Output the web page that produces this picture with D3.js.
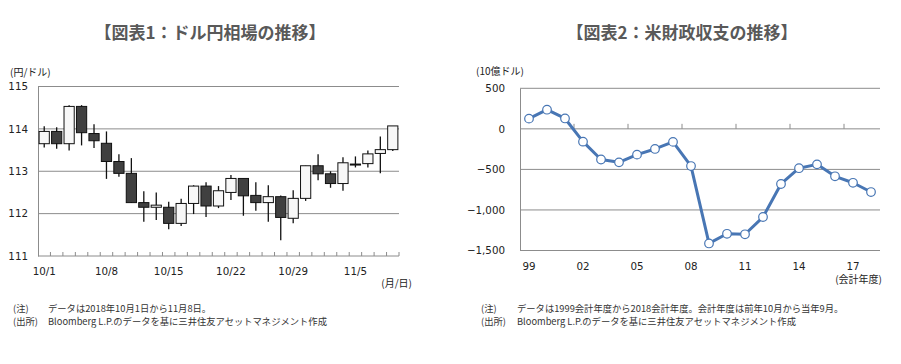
<!DOCTYPE html>
<html>
<head>
<meta charset="utf-8">
<script src="https://cdn.jsdelivr.net/npm/d3@7"></script>
<style>
  body { margin: 0; background: #fff; }
  svg { display: block; }
  .title { font-family: "Noto Sans CJK JP", sans-serif; font-weight: bold; font-size: 17px; fill: #595959; }
  .tick-label { font-family: "DejaVu Sans", "Noto Sans CJK JP", sans-serif; font-size: 10.3px; fill: #222; }
  .unit { font-family: "Noto Sans CJK JP", sans-serif; font-size: 10px; fill: #222; }
  .note { font-family: "Noto Sans CJK JP", sans-serif; font-size: 9.3px; fill: #333; }
</style>
</head>
<body>
<svg id="chart" width="901" height="364"></svg>
<script>
'use strict';

// chart 1: USD/JPY daily candles, 2018/10/1 - 11/8
var dates = ['10/1', '10/2', '10/3', '10/4', '10/5',
  '10/8', '10/9', '10/10', '10/11', '10/12',
  '10/15', '10/16', '10/17', '10/18', '10/19',
  '10/22', '10/23', '10/24', '10/25', '10/26',
  '10/29', '10/30', '10/31', '11/1', '11/2',
  '11/5', '11/6', '11/7', '11/8'];
var opens = [113.65, 113.94, 113.65, 114.53, 113.89, 113.66, 113.23, 112.95, 112.26, 112.15,
  112.15, 111.77, 112.24, 112.65, 112.18, 112.50, 112.83, 112.43, 112.26, 112.40,
  111.89, 112.36, 113.13, 112.94, 112.71, 113.17, 113.18, 113.42, 113.51];
var highs = [114.06, 114.04, 114.56, 114.56, 114.11, 113.94, 113.40, 113.31, 112.53, 112.50,
  112.28, 112.35, 112.67, 112.74, 112.65, 112.91, 112.83, 112.74, 112.67, 112.43,
  112.55, 113.13, 113.40, 113.00, 113.33, 113.35, 113.49, 113.82, 114.07];
var lows = [113.56, 113.53, 113.49, 113.61, 113.55, 112.82, 112.87, 112.25, 111.81, 111.85,
  111.63, 111.71, 111.99, 111.92, 112.13, 112.32, 111.95, 112.07, 111.81, 111.37,
  111.77, 112.30, 112.79, 112.61, 112.54, 113.09, 113.09, 112.95, 113.48];
var closes = [113.94, 113.65, 114.53, 113.91, 113.72, 113.23, 112.95, 112.26, 112.15, 112.20,
  111.77, 112.24, 112.65, 112.18, 112.54, 112.83, 112.42, 112.26, 112.40, 111.91,
  112.36, 113.13, 112.94, 112.71, 113.20, 113.15, 113.41, 113.51, 114.07];
var dateLabels = ['10/1', '10/8', '10/15', '10/22', '10/29', '11/5'];
var yenTicks = [111, 112, 113, 114, 115];

// chart 2: US federal budget balance, fiscal years 1999 - 2018 (USD bn)
var fiscalYears = [1999, 2000, 2001, 2002, 2003, 2004, 2005, 2006, 2007, 2008,
  2009, 2010, 2011, 2012, 2013, 2014, 2015, 2016, 2017, 2018];
var balances = [126, 236, 128, -158, -378, -413, -318, -248, -161, -459,
  -1413, -1294, -1300, -1087, -680, -485, -438, -585, -665, -779];
var yearLabels = [1999, 2002, 2005, 2008, 2011, 2014, 2017];
var balanceTicks = [500, 0, -500, -1000, -1500];

var GRID = '#8c8c8c',
  LINE_BLUE = '#4876b4';

var svg = d3.select('#chart');
svg.append('rect').attr('width', 901).attr('height', 364).attr('fill', '#fff');

drawCandles();
drawBalance();

function drawCandles() {
  var LEFT = 38, RIGHT = 399, TOP = 86.5, BOTTOM = 256;

  var data = dates.map(function(d, i) {
    return { date: d, open: opens[i], high: highs[i], low: lows[i], close: closes[i] };
  });

  var xScale = d3.scaleBand()
    .domain(dates)
    .range([LEFT, RIGHT]);

  var yScale = d3.scaleLinear()
    .domain([111, 115])
    .range([BOTTOM, TOP]);

  var g = svg.append('g');

  svg.append('text')
    .attr('class', 'title')
    .attr('x', 210)
    .attr('y', 39)
    .attr('text-anchor', 'middle')
    .text('【図表1：ドル円相場の推移】');

  // gridlines
  g.selectAll('.grid')
    .data(yenTicks.filter(function(t) { return t > 111; }))
    .enter().append('line')
    .attr('x1', LEFT).attr('x2', RIGHT)
    .attr('y1', function(d) { return yScale(d); })
    .attr('y2', function(d) { return yScale(d); })
    .attr('stroke', GRID)
    .attr('stroke-width', 1);

  // y axis
  var yAxis = d3.axisLeft(yScale)
    .tickValues(yenTicks)
    .tickSize(0)
    .tickPadding(10)
    .tickFormat(d3.format('d'));

  g.append('g')
    .attr('transform', 'translate(' + LEFT + ',0)')
    .call(yAxis)
    .call(function(ax) {
      ax.select('.domain').attr('stroke', GRID);
      ax.selectAll('text').attr('class', 'tick-label').attr('fill', null);
    });

  // x axis: ticks on band edges, pointing up
  var bw = xScale.bandwidth();
  g.append('line')
    .attr('x1', LEFT).attr('x2', RIGHT)
    .attr('y1', BOTTOM).attr('y2', BOTTOM)
    .attr('stroke', GRID);

  g.selectAll('.xtick')
    .data(dates)
    .enter().append('line')
    .attr('x1', function(d) { return xScale(d) + bw; })
    .attr('x2', function(d) { return xScale(d) + bw; })
    .attr('y1', BOTTOM)
    .attr('y2', BOTTOM - 4)
    .attr('stroke', GRID);

  g.selectAll('.xlabel')
    .data(dateLabels)
    .enter().append('text')
    .attr('class', 'tick-label')
    .attr('x', function(d) { return xScale(d) + bw / 2; })
    .attr('y', BOTTOM + 19)
    .attr('text-anchor', 'middle')
    .text(function(d) { return d; });

  // candles
  var candles = g.selectAll('.candle')
    .data(data)
    .enter().append('g');

  candles.append('line')
    .attr('x1', function(d) { return xScale(d.date) + bw / 2; })
    .attr('x2', function(d) { return xScale(d.date) + bw / 2; })
    .attr('y1', function(d) { return yScale(d.high); })
    .attr('y2', function(d) { return yScale(d.low); })
    .attr('stroke', '#111')
    .attr('stroke-width', 1.3);

  candles.append('rect')
    .attr('x', function(d) { return xScale(d.date) + bw * 0.09; })
    .attr('width', bw * 0.82)
    .attr('y', function(d) { return yScale(Math.max(d.open, d.close)); })
    .attr('height', function(d) {
      return Math.max(1, Math.abs(yScale(d.open) - yScale(d.close)));
    })
    .attr('fill', function(d) { return d.close >= d.open ? '#f7f7f7' : '#404040'; })
    .attr('stroke', '#111')
    .attr('stroke-width', 1);

  svg.append('text')
    .attr('class', 'unit')
    .attr('x', 10)
    .attr('y', 76)
    .text('(円/ドル)');

  svg.append('text')
    .attr('class', 'unit')
    .attr('x', 412)
    .attr('y', 287)
    .attr('text-anchor', 'end')
    .text('(月/日)');

  notes(13, 48, 'データは2018年10月1日から11月8日。');
}

function drawBalance() {
  var LEFT = 520, RIGHT = 880, TOP = 88.3, BOTTOM = 250.5;

  var xScale = d3.scaleBand()
    .domain(fiscalYears)
    .range([LEFT, RIGHT]);

  var yScale = d3.scaleLinear()
    .domain([-1500, 500])
    .range([BOTTOM, TOP]);

  var bw = xScale.bandwidth();
  var g = svg.append('g');

  svg.append('text')
    .attr('class', 'title')
    .attr('x', 682)
    .attr('y', 39)
    .attr('text-anchor', 'middle')
    .text('【図表2：米財政収支の推移】');

  g.selectAll('.grid')
    .data(balanceTicks)
    .enter().append('line')
    .attr('x1', LEFT).attr('x2', RIGHT)
    .attr('y1', function(d) { return yScale(d); })
    .attr('y2', function(d) { return yScale(d); })
    .attr('stroke', GRID);

  var yAxis = d3.axisLeft(yScale)
    .tickValues(balanceTicks)
    .tickSize(0)
    .tickPadding(15)
    .tickFormat(d3.format(',d'));

  g.append('g')
    .attr('transform', 'translate(' + LEFT + ',0)')
    .call(yAxis)
    .call(function(ax) {
      ax.select('.domain').attr('stroke', GRID);
      ax.selectAll('text').attr('class', 'tick-label').attr('fill', null);
    });

  // tick marks on the zero line, left edge of each labelled year
  g.selectAll('.xtick')
    .data(yearLabels.filter(function(y) { return y !== 1999; }))
    .enter().append('line')
    .attr('x1', function(d) { return xScale(d); })
    .attr('x2', function(d) { return xScale(d); })
    .attr('y1', yScale(0))
    .attr('y2', yScale(0) - 5)
    .attr('stroke', GRID);

  g.selectAll('.xlabel')
    .data(yearLabels)
    .enter().append('text')
    .attr('class', 'tick-label')
    .attr('x', function(d) { return xScale(d) + bw / 2; })
    .attr('y', BOTTOM + 19)
    .attr('text-anchor', 'middle')
    .text(function(d) { return String(d).slice(2); });

  var points = fiscalYears.map(function(y, i) {
    return { year: y, value: balances[i] };
  });

  var line = d3.line()
    .x(function(d) { return xScale(d.year) + bw / 2; })
    .y(function(d) { return yScale(d.value); });

  g.append('path')
    .datum(points)
    .attr('d', line)
    .attr('fill', 'none')
    .attr('stroke', LINE_BLUE)
    .attr('stroke-width', 3)
    .attr('stroke-linejoin', 'round');

  g.selectAll('.marker')
    .data(points)
    .enter().append('circle')
    .attr('cx', function(d) { return xScale(d.year) + bw / 2; })
    .attr('cy', function(d) { return yScale(d.value); })
    .attr('r', 4.3)
    .attr('fill', '#fff')
    .attr('stroke', LINE_BLUE)
    .attr('stroke-width', 1.2);

  svg.append('text')
    .attr('class', 'unit')
    .attr('x', 476)
    .attr('y', 75)
    .text('(10億ドル)');

  svg.append('text')
    .attr('class', 'unit')
    .attr('x', 882)
    .attr('y', 283)
    .attr('text-anchor', 'end')
    .text('(会計年度)');

  notes(481, 517, 'データは1999会計年度から2018会計年度。会計年度は前年10月から当年9月。');
}

function notes(x0, x1, noteText) {
  var rows = [['(注)', noteText], ['(出所)', 'Bloomberg L.P.のデータを基に三井住友アセットマネジメント作成']];
  rows.forEach(function(r, i) {
    var y = 311.5 + i * 13.5;
    svg.append('text').attr('class', 'note').attr('x', x0).attr('y', y).text(r[0]);
    svg.append('text').attr('class', 'note').attr('x', x1).attr('y', y).text(r[1]);
  });
}
</script>
</body>
</html>
